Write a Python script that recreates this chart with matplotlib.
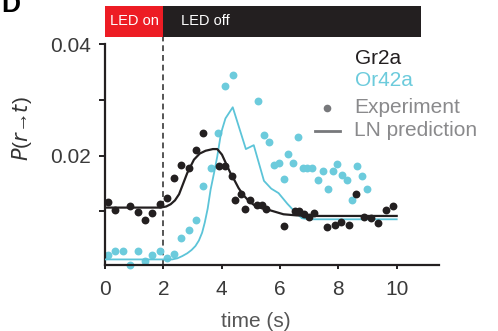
import matplotlib
matplotlib.use("Agg")
import matplotlib.pyplot as plt

plt.rcParams["font.family"] = ["Liberation Sans", "DejaVu Sans"]

# experimental points (time in s, probability)
gr2a_t = [0.11, 0.36, 0.86, 1.12, 1.37, 1.61, 1.87, 2.12, 2.37, 2.62, 2.87, 3.12,
          3.37, 3.92, 4.10, 4.36, 4.47, 4.66, 4.81, 4.97, 5.21, 5.38, 5.53, 6.12,
          6.50, 6.66, 6.83, 6.98, 7.15, 7.62, 7.88, 8.08, 8.36, 8.62, 8.87, 9.12,
          9.37, 9.62, 9.88]
gr2a_p = [0.0117, 0.0102, 0.0109, 0.0099, 0.0084, 0.0097, 0.0113, 0.0125, 0.0160,
          0.0184, 0.0178, 0.0211, 0.0241, 0.0182, 0.0182, 0.0164, 0.0120, 0.0132,
          0.0105, 0.0120, 0.0112, 0.0112, 0.0105, 0.0074, 0.0100, 0.0101, 0.0095,
          0.0090, 0.0097, 0.0073, 0.0076, 0.0081, 0.0076, 0.0132, 0.0091, 0.0089,
          0.0079, 0.0102, 0.0109]

or42a_t = [0.11, 0.36, 0.61, 0.86, 1.12, 1.37, 1.61, 1.87, 2.13, 2.37, 2.61, 2.87,
           3.12, 3.36, 3.62, 3.87, 4.10, 4.38, 5.26, 5.45, 5.63, 5.81, 5.97, 6.12,
           6.29, 6.46, 6.62, 6.78, 6.94, 7.10, 7.30, 7.46, 7.63, 7.80, 7.96, 8.14,
           8.30, 8.46, 8.64, 8.80, 8.97]
or42a_p = [0.0022, 0.0029, 0.0029, 0.0004, 0.0029, 0.0012, 0.0022, 0.0029, 0.0016,
           0.0023, 0.0053, 0.0066, 0.0085, 0.0145, 0.0178, 0.0241, 0.0326, 0.0345,
           0.0299, 0.0238, 0.0224, 0.0184, 0.0187, 0.0158, 0.0204, 0.0187, 0.0233,
           0.0178, 0.0178, 0.0178, 0.0157, 0.0173, 0.0141, 0.0173, 0.0186, 0.0165,
           0.0156, 0.0120, 0.0181, 0.0164, 0.0141]

# LN model predictions
gr2a_ln_t = [0, 1.9, 2.1, 2.25, 2.4, 2.54, 2.68, 2.82, 3.05, 3.25, 3.45, 3.7, 3.85,
             4.01, 4.15, 4.3, 4.45, 4.58, 4.75, 4.93, 5.1, 5.32, 5.67, 6.12, 6.57,
             7.0, 10.0]
gr2a_ln_p = [0.0107, 0.0107, 0.0109, 0.0113, 0.0120, 0.0131, 0.0150, 0.0169, 0.0193,
             0.0204, 0.0209, 0.0212, 0.0212, 0.0202, 0.0186, 0.0169, 0.0155, 0.0142,
             0.0129, 0.0119, 0.0112, 0.0107, 0.0102, 0.0095, 0.0093, 0.0092, 0.0092]

or42a_ln_t = [0, 2.3, 2.48, 2.65, 2.82, 2.97, 3.1, 3.22, 3.33, 3.42, 3.52, 3.62, 3.75,
              3.85, 3.96, 4.02, 4.13, 4.38, 4.83, 5.1, 5.45, 5.7, 5.95, 6.25, 6.5,
              6.75, 7.0, 10.0]
or42a_ln_p = [0.0014, 0.0014, 0.0016, 0.0020, 0.0025, 0.0031, 0.0038, 0.0048, 0.0062,
              0.0080, 0.0105, 0.0139, 0.0172, 0.0199, 0.0235, 0.0248, 0.0267, 0.0287,
              0.0212, 0.0219, 0.0155, 0.0141, 0.0133, 0.0114, 0.0100, 0.0088, 0.0086,
              0.0086]

led_on = (0, 2)
led_off = (2, 10.83)

BLACK = "#231f20"
CYAN = "#6ccbdc"
CYAN_LINE = "#5cc4d8"
GREY = "#8a8a8c"

fig = plt.figure(figsize=(4.98, 3.31), dpi=100)
ax = fig.add_axes([0.2108, 0.1994, 0.6707, 0.6668])

ax.scatter(or42a_t, or42a_p, s=32, color=CYAN, linewidths=0, zorder=2, clip_on=False)
ax.plot(or42a_ln_t, or42a_ln_p, color=CYAN_LINE, lw=1.3, zorder=3)
ax.plot(gr2a_ln_t, gr2a_ln_p, color=BLACK, lw=1.6, zorder=4)
ax.scatter(gr2a_t, gr2a_p, s=32, color=BLACK, linewidths=0, zorder=5)

ax.set_xlim(0, 11.45)
ax.set_ylim(0.0004, 0.04)

# LED stimulus bar above the axes
bar_lo, bar_hi = 0.0413, 0.0469
ax.fill_between(led_on, bar_lo, bar_hi, color="#ed1c24", lw=0, clip_on=False)
ax.fill_between(led_off, bar_lo, bar_hi, color=BLACK, lw=0, clip_on=False)
ax.text(1.0, (bar_lo + bar_hi) / 2, "LED on", color="white", fontsize=10.5,
        ha="center", va="center")
ax.text(2.6, (bar_lo + bar_hi) / 2, "LED off", color="white", fontsize=10.5,
        ha="left", va="center")
ax.plot([2, 2], [0.0004, bar_lo], ls=(0, (3, 2)), color="#555555", lw=1.4,
        clip_on=False, zorder=1)

for side in ["top", "right"]:
    ax.spines[side].set_visible(False)
for side in ["left", "bottom"]:
    ax.spines[side].set_linewidth(1.6)
    ax.spines[side].set_color(BLACK)

ax.set_xticks([0, 2, 4, 6, 8, 10])
ax.set_yticks([0.01, 0.02, 0.03, 0.04])
ax.set_yticklabels(["", "0.02", "", "0.04"])
ax.tick_params(axis="both", labelsize=15, labelcolor="#3a3a3a", color=BLACK,
               width=1.4, direction="out")
ax.tick_params(axis="y", length=4, pad=6)
ax.tick_params(axis="x", length=3, pad=8)

ax.set_xlabel("time (s)", fontsize=15, color="#555555")
ax.xaxis.set_label_coords(0.452, -0.215)
fig.text(22.5 / 498, 1 - 128.5 / 331, r"$\it{P}$($\it{r}$→$\it{t}$)", rotation=90,
         ha="center", va="center", fontsize=15, color="#333333")

# manual legend
fig.text(355 / 498, 1 - 58 / 331, "Gr2a", color=BLACK, fontsize=15, va="center")
fig.text(355 / 498, 1 - 80.5 / 331, "Or42a", color=CYAN, fontsize=15, va="center")
fig.text(354 / 498, 1 - 107.5 / 331, "Experiment", color=GREY, fontsize=15, va="center")
fig.text(354 / 498, 1 - 130.5 / 331, "LN prediction", color=GREY, fontsize=15, va="center")
fig.lines.append(plt.Line2D([327 / 498], [1 - 108 / 331], transform=fig.transFigure,
                            marker="o", ms=5.5, mew=0, color="#77787b", ls="none"))
fig.lines.append(plt.Line2D([315 / 498, 340 / 498], [1 - 131 / 331, 1 - 131 / 331],
                            transform=fig.transFigure, color="#77787b", lw=2))

fig.text(0.003, 1 - 12 / 331, "D", fontsize=19, fontweight="bold", va="baseline")

fig.savefig("out.png", dpi=100)
